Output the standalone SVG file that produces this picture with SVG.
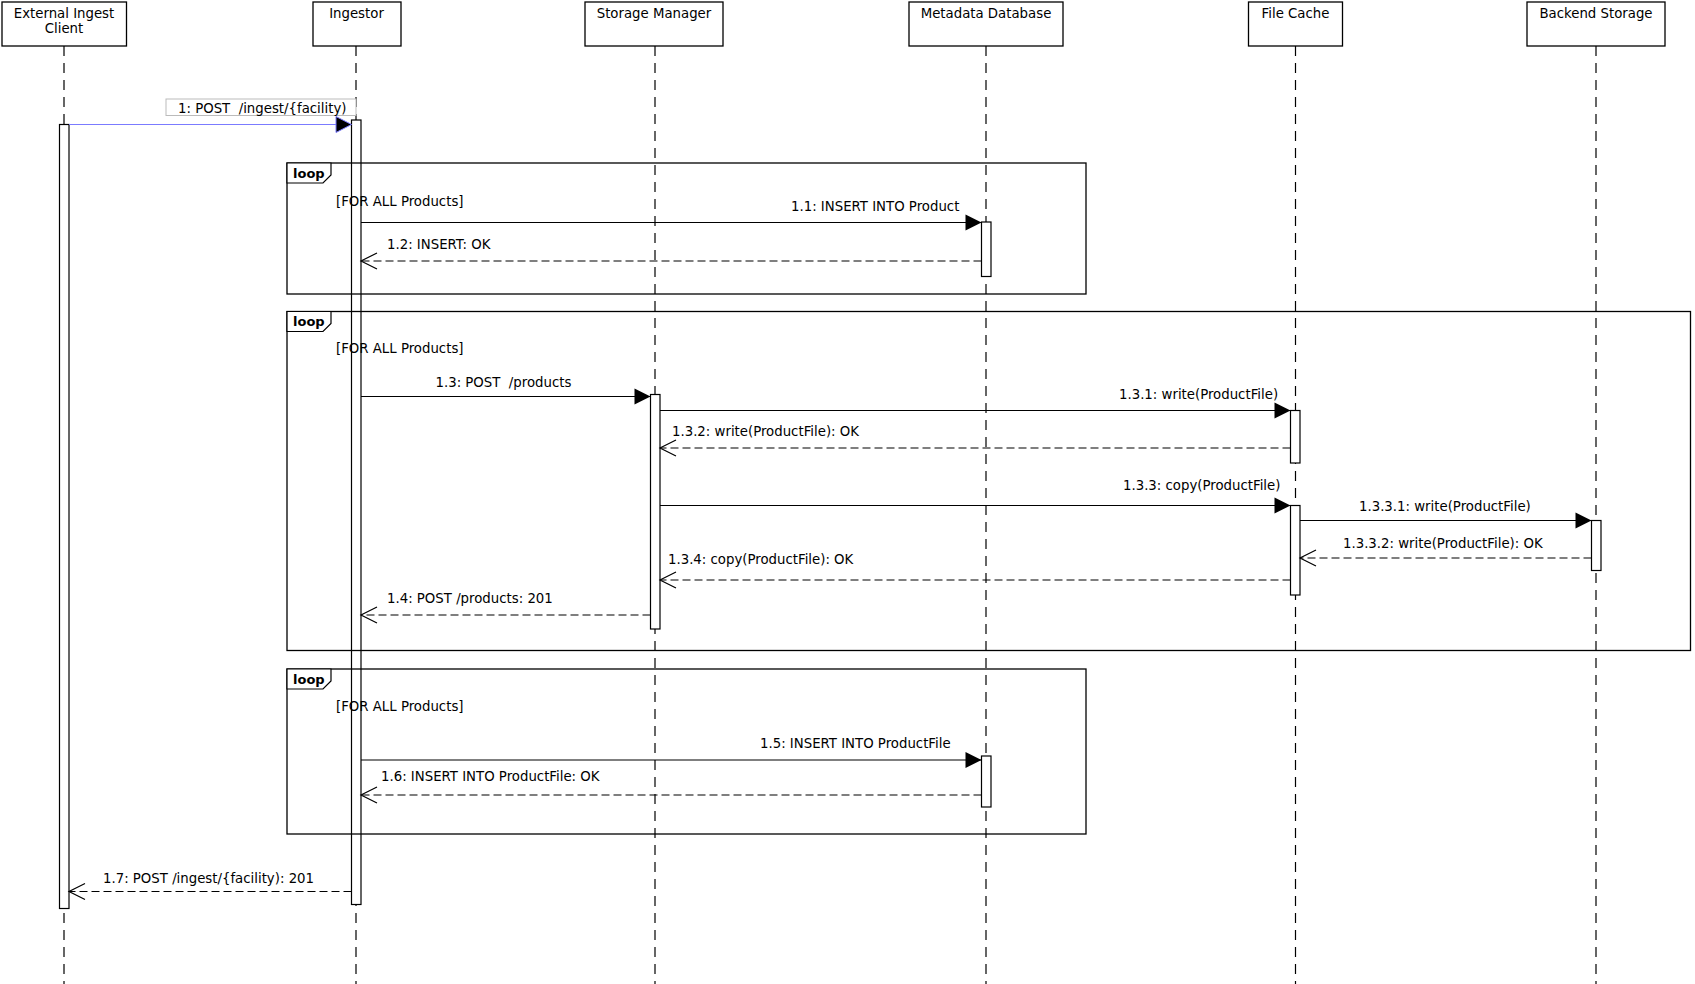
<svg xmlns="http://www.w3.org/2000/svg" width="1695" height="984" viewBox="0 0 1695 984">
<style>
.bg{fill:#fff}
.box{fill:#fff;stroke:#000;stroke-width:1.3}
.life{stroke:#000;stroke-width:1.2;stroke-dasharray:10 7;fill:none}
.act{fill:#fff;stroke:#000;stroke-width:1.2}
.frame{fill:none;stroke:#000;stroke-width:1.3}
.tag{fill:#fff;stroke:#000;stroke-width:1.2}
.msg{stroke:#000;stroke-width:1.2;fill:none}
.call{marker-end:url(#filled)}
.ret{stroke-dasharray:8 4;marker-end:url(#open)}
text{font-family:"DejaVu Sans","Liberation Sans",sans-serif;font-size:13.3px;fill:#000}
.hd{text-anchor:middle}
.lt{font-weight:bold;font-size:13px}
</style>
<defs>
<marker id="filled" markerUnits="userSpaceOnUse" markerWidth="17" markerHeight="17" refX="16" refY="8" orient="auto" overflow="visible">
<path d="M0,0 L16,8 L0,16 Z" fill="#000" stroke="none"/>
</marker>
<marker id="open" markerUnits="userSpaceOnUse" markerWidth="17" markerHeight="17" refX="16" refY="8" orient="auto" overflow="visible">
<path d="M0,0 L16,8 L0,16" fill="none" stroke="#000" stroke-width="1.2" stroke-dasharray="none"/>
</marker>
</defs>
<rect class="bg" x="0" y="0" width="1695" height="984"/>

<g id="lifelines">
<line class="life" x1="64" y1="46" x2="64" y2="984"/>
<line class="life" x1="356" y1="46" x2="356" y2="984"/>
<line class="life" x1="655" y1="46" x2="655" y2="984"/>
<line class="life" x1="986" y1="46" x2="986" y2="984"/>
<line class="life" x1="1295.5" y1="46" x2="1295.5" y2="984"/>
<line class="life" x1="1596" y1="46" x2="1596" y2="984"/>
</g>

<g id="client">
<rect class="box" x="2" y="2" width="124.5" height="44"/>
<text class="hd" x="64" y="17.5">External Ingest</text>
<text class="hd" x="64" y="33">Client</text>
<rect class="act" x="59.5" y="124.5" width="9.5" height="784"/>
</g>
<g id="ingestor">
<rect class="box" x="313" y="2" width="88" height="44"/>
<text class="hd" x="356.5" y="17.5">Ingestor</text>
<rect class="act" x="351.5" y="120" width="9.5" height="784.5"/>
</g>
<g id="storage-manager">
<rect class="box" x="585" y="2" width="138" height="44"/>
<text class="hd" x="654" y="17.5">Storage Manager</text>
<rect class="act" x="650.5" y="394.5" width="9.5" height="234.5"/>
</g>
<g id="metadata-database">
<rect class="box" x="909" y="2" width="154" height="44"/>
<text class="hd" x="986" y="17.5">Metadata Database</text>
<rect class="act" x="981.5" y="222" width="9.5" height="54.5"/>
<rect class="act" x="981.5" y="756" width="9.5" height="51"/>
</g>
<g id="file-cache">
<rect class="box" x="1248.5" y="2" width="94" height="44"/>
<text class="hd" x="1295.5" y="17.5">File Cache</text>
<rect class="act" x="1290.5" y="410.5" width="9.5" height="52.5"/>
<rect class="act" x="1290.5" y="505.5" width="9.5" height="89.5"/>
</g>
<g id="backend-storage">
<rect class="box" x="1527" y="2" width="138" height="44"/>
<text class="hd" x="1596" y="17.5">Backend Storage</text>
<rect class="act" x="1591.5" y="520.5" width="9.5" height="50"/>
</g>

<g id="loop1">
<rect class="frame" x="287" y="163" width="799" height="131"/>
<path class="tag" d="M287,163 H331 V175 L323,183 H287 Z"/>
<text class="lt" x="293" y="177.5">loop</text>
<text x="336" y="206">[FOR ALL Products]</text>
</g>
<g id="loop2">
<rect class="frame" x="287" y="311.5" width="1403.5" height="339"/>
<path class="tag" d="M287,311.5 H331 V323.5 L323,331.5 H287 Z"/>
<text class="lt" x="293" y="326">loop</text>
<text x="336" y="353">[FOR ALL Products]</text>
</g>
<g id="loop3">
<rect class="frame" x="287" y="669" width="799" height="165"/>
<path class="tag" d="M287,669 H331 V681 L323,689 H287 Z"/>
<text class="lt" x="293" y="683.5">loop</text>
<text x="336" y="711">[FOR ALL Products]</text>
</g>

<g id="connectors">
<line x1="69" y1="124.5" x2="336" y2="124.5" stroke="#7b7bff" stroke-width="1.2"/>
<path d="M336,116.5 L351.5,124.5 L336,132.5 Z" fill="#000" stroke="#7b7bff" stroke-width="1"/>
<line class="msg call" x1="361" y1="222.5" x2="981.5" y2="222.5"/>
<line class="msg ret" x1="981.5" y1="261" x2="361" y2="261"/>
<line class="msg call" x1="361" y1="396.5" x2="650.5" y2="396.5"/>
<line class="msg call" x1="660" y1="410.5" x2="1290.5" y2="410.5"/>
<line class="msg ret" x1="1290.5" y1="448" x2="660" y2="448"/>
<line class="msg call" x1="660" y1="505.5" x2="1290.5" y2="505.5"/>
<line class="msg call" x1="1300" y1="520.5" x2="1591.5" y2="520.5"/>
<line class="msg ret" x1="1591.5" y1="558" x2="1300" y2="558"/>
<line class="msg ret" x1="1290.5" y1="580" x2="660" y2="580"/>
<line class="msg ret" x1="650.5" y1="615" x2="361" y2="615"/>
<line class="msg call" x1="361" y1="760" x2="981.5" y2="760"/>
<line class="msg ret" x1="981.5" y1="795" x2="361" y2="795"/>
<line class="msg ret" x1="351.5" y1="891.5" x2="69" y2="891.5"/>
</g>

<g id="labels">
<rect x="166" y="99" width="190" height="16.5" fill="#fff" stroke="#bbb" stroke-width="1"/>
<text x="178" y="112.5" xml:space="preserve">1: POST  /ingest/{facility)</text>
<text x="791" y="211">1.1: INSERT INTO Product</text>
<text x="387" y="249">1.2: INSERT: OK</text>
<text x="435.5" y="386.5" xml:space="preserve">1.3: POST  /products</text>
<text x="1119" y="398.5">1.3.1: write(ProductFile)</text>
<text x="672" y="436">1.3.2: write(ProductFile): OK</text>
<text x="1123" y="490">1.3.3: copy(ProductFile)</text>
<text x="1359" y="510.5">1.3.3.1: write(ProductFile)</text>
<text x="1343" y="548">1.3.3.2: write(ProductFile): OK</text>
<text x="668" y="564">1.3.4: copy(ProductFile): OK</text>
<text x="387" y="603">1.4: POST /products: 201</text>
<text x="760" y="748">1.5: INSERT INTO ProductFile</text>
<text x="381" y="781">1.6: INSERT INTO ProductFile: OK</text>
<text x="103" y="882.5">1.7: POST /ingest/{facility): 201</text>
</g>
</svg>
